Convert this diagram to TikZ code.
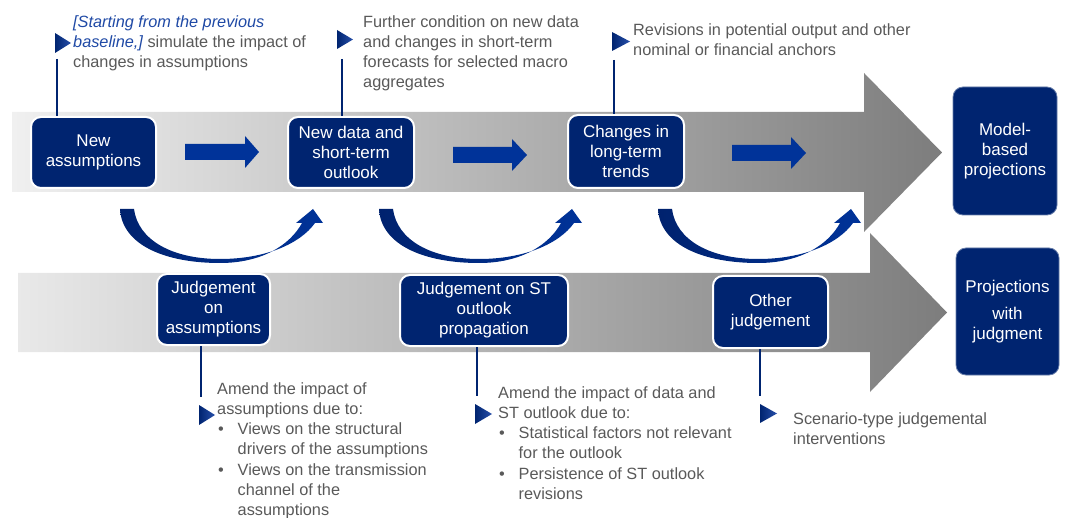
\documentclass[tikz,border=0pt]{standalone}
\usepackage{fontspec}
\setmainfont{Liberation Sans}
\definecolor{navy}{RGB}{0,36,112}
\definecolor{arrowblue}{RGB}{0,51,153}
\definecolor{cdark}{RGB}{0,34,110}
\definecolor{textgray}{RGB}{89,89,89}
\definecolor{itblue}{RGB}{31,73,165}
\definecolor{bigL}{RGB}{240,240,240}
\definecolor{bigM}{RGB}{175,175,175}
\definecolor{bigR}{RGB}{125,125,125}
\definecolor{tripale}{RGB}{40,80,170}
\newcommand\bul{\makebox[20.5pt][l]{\hspace{1pt}\textbullet}}
\newcommand\ind{\hspace{20.5pt}}
\tikzset{
  box/.style={rectangle, rounded corners=10pt, fill=navy, draw=white, line width=2pt,
    text=white, align=center, inner sep=2pt, font=\fontsize{17}{20}\selectfont},
  note/.style={anchor=north west, inner sep=0pt, align=left, text=textgray,
    font=\fontsize{16.3}{20.3}\selectfont},
  conn/.style={draw=navy, line width=2.4pt},
  marker/.style={left color=navy, right color=tripale},
  blockarrow/.style={fill=arrowblue},
  curved/.style={left color=cdark, right color=arrowblue},
}
\begin{document}
\begin{tikzpicture}[x=1pt,y=-1pt]
\useasboundingbox (0,0) rectangle (1067,518);

% big grey arrows
\shade[left color=bigL, middle color=bigM, right color=bigR]
  (12,112) -- (864,112) -- (864,73) -- (942,152.5) -- (864,232) -- (864,192) -- (12,192) -- cycle;
\shade[left color=bigL!97!black, middle color=bigM, right color=bigR]
  (18,273) -- (870,273) -- (870,233) -- (947,312.5) -- (870,392) -- (870,352) -- (18,352) -- cycle;

% curved arrows
\foreach \dx in {0,259,538}{
  \begin{scope}[xshift=\dx pt]
  \shade[curved] (120,209) .. controls (122,245) and (165,263) .. (220,263)
     .. controls (262,263) and (290,245) .. (302,223) -- (296,223) -- (313,209) -- (323,223) -- (315,223)
     .. controls (300,244) and (265,259) .. (220,259)
     .. controls (172,259) and (138,240) .. (134,209) -- cycle;
  \end{scope}
}

% small block arrows
\fill[blockarrow] (185,144) -- (245,144) -- (245,136) -- (259,152) -- (245,168) -- (245,160) -- (185,160) -- cycle;
\fill[blockarrow] (453,147) -- (512,147) -- (512,139) -- (527,155) -- (512,171) -- (512,163) -- (453,163) -- cycle;
\fill[blockarrow] (732,145) -- (791,145) -- (791,137) -- (806,153) -- (791,169) -- (791,161) -- (732,161) -- cycle;

% nodes
\node[box, minimum width=125pt, minimum height=71pt] (n1) at (93.5,152.5) {New\\assumptions};
\node[box, minimum width=126pt, minimum height=71pt] (n2) at (351,152.5) {New data and\\short-term\\outlook};
\node[box, minimum width=116pt, minimum height=73pt] (n3) at (626,151.5) {Changes in\\long-term\\trends};
\node[box, minimum width=104pt, minimum height=128pt, draw=navy!60, line width=0.8pt] (n4) at (1005,151) {Model-\\based\\projections};
\node[box, minimum width=113pt, minimum height=71pt] (n5) at (213.5,309.5) {Judgement\\on\\assumptions};
\node[box, minimum width=168pt, minimum height=71pt] (n6) at (484,310.5) {Judgement on ST\\outlook\\propagation};
\node[box, minimum width=115pt, minimum height=72pt] (n7) at (770.5,312) {Other\\judgement};
\node[box, minimum width=103pt, minimum height=127pt, draw=navy!60, line width=0.8pt] (n8) at (1007.5,311.5) {Projections\\[7pt]with\\judgment};

% connectors
\coordinate (c1) at (57,59);
\coordinate (c2) at (342,59);
\coordinate (c3) at (614,60);
\coordinate (c4) at (201,397);
\coordinate (c5) at (477,396);
\coordinate (c6) at (760,396);
\draw[conn] (c1) -- (c1 |- n1.north);
\draw[conn] (c2) -- (c2 |- n2.north);
\draw[conn] (c3) -- (c3 |- n3.north);
\draw[conn] (c4 |- n5.south) -- (c4);
\draw[conn] (c5 |- n6.south) -- (c5);
\draw[conn] (c6 |- n7.south) -- (c6);

% markers
\shade[marker] (55,33) -- (71,43) -- (55,53) -- cycle;
\shade[marker] (337,30) -- (353,39.5) -- (337,49) -- cycle;
\shade[marker] (612,32) -- (630,41.5) -- (612,51) -- cycle;
\shade[marker] (199,405) -- (215,415) -- (199,425) -- cycle;
\shade[marker] (475,404) -- (492,414) -- (475,424) -- cycle;
\shade[marker] (760,404) -- (777,413.5) -- (760,423) -- cycle;

% notes
\node[note] (t1) at (73,15) {\textcolor{itblue}{\itshape [Starting from the previous}\\\textcolor{itblue}{\itshape baseline,]} simulate the impact of\\changes in assumptions};
\node[note] (t2) at (363,15) {Further condition on new data\\and changes in short-term\\forecasts for selected macro\\aggregates};
\node[note] (t3) at (633,23) {Revisions in potential output and other\\nominal or financial anchors};
\node[note] (t4) at (217,382) {Amend the impact of\\assumptions due to:\\\bul Views on the structural\\\ind drivers of the assumptions\\\bul Views on the transmission\\\ind channel of the\\\ind assumptions};
\node[note] (t5) at (498,386) {Amend the impact of data and\\ST outlook due to:\\\bul Statistical factors not relevant\\\ind for the outlook\\\bul Persistence of ST outlook\\\ind revisions};
\node[note] (t6) at (793,412) {Scenario-type judgemental\\interventions};
\end{tikzpicture}
\end{document}
